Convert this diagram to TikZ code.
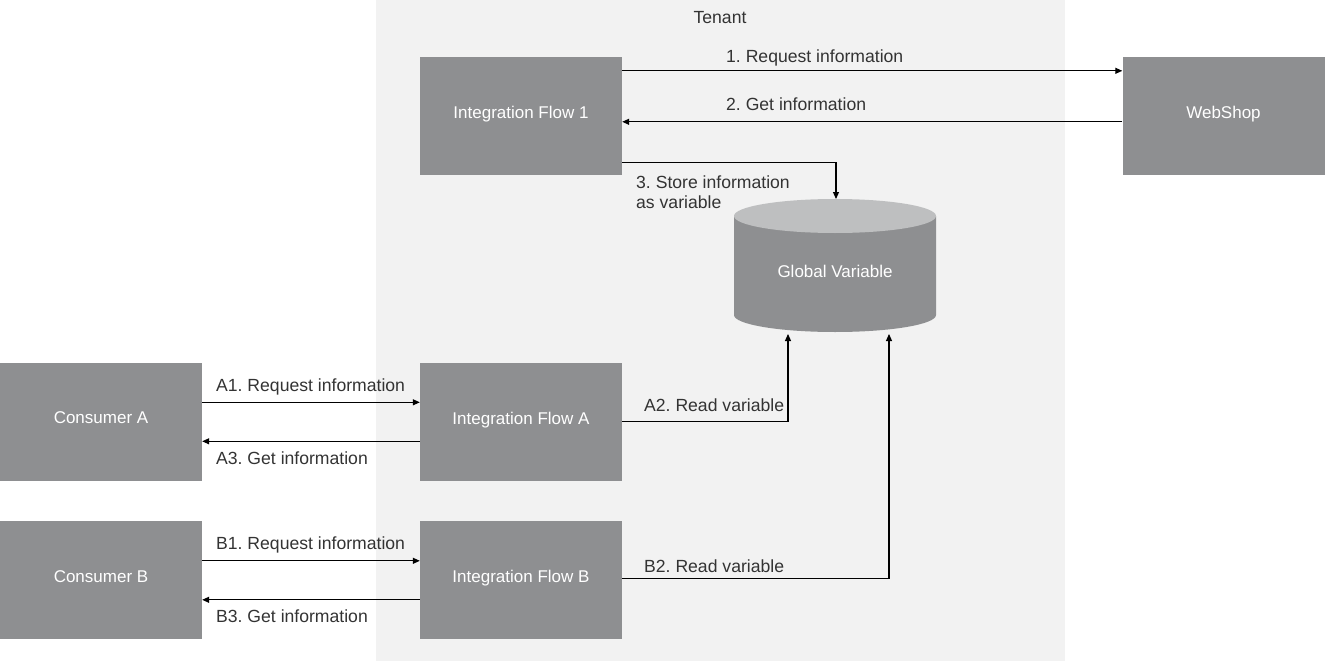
\documentclass[tikz,border=0pt]{standalone}
\usepackage{fontspec}
\setmainfont{Liberation Sans}
\usetikzlibrary{arrows.meta,calc}
\definecolor{boxgray}{HTML}{8E8F91}
\definecolor{tenantbg}{HTML}{F2F2F2}
\definecolor{captop}{HTML}{BEBFC0}
\definecolor{labelc}{HTML}{333333}
\frenchspacing
\begin{document}
\begin{tikzpicture}[x=1pt,y=-1pt,
  box/.style={fill=boxgray,minimum width=202pt,minimum height=118pt,inner sep=0pt,text=white,font=\fontsize{17}{20}\selectfont,text depth=7pt},
  lbl/.style={text=labelc,font=\fontsize{17.6}{20}\selectfont,inner sep=0pt,anchor=west},
  arr/.style={draw=black,line width=1.1pt,-{Triangle[length=7pt,width=6pt]}}]
\useasboundingbox (0,0) rectangle (1325,661);
\fill[tenantbg] (376,0) rectangle (1065,661);
\node[lbl,anchor=center] (tenant) at (720,18) {Tenant};
% boxes
\node[box] (if1) at (521,116) {Integration Flow 1};
\node[box] (ws) at (1223.5,116) {WebShop};
\node[box] (ca) at (101,421.5) {Consumer A};
\node[box] (ifa) at (521,421.5) {Integration Flow A};
\node[box] (cb) at (101,580) {Consumer B};
\node[box] (ifb) at (521,580) {Integration Flow B};
% cylinder
\fill[boxgray] (734,216) -- (734,315) arc[start angle=180,end angle=360,x radius=101pt,y radius=17pt] -- (936,216) -- cycle;
\fill[captop] (835,216) ellipse [x radius=101pt, y radius=17pt];
\node[text=white,font=\fontsize{17}{20}\selectfont,inner sep=0pt] (gv) at (835,271) {Global Variable};
\coordinate (gvtop) at (836,199);
\coordinate (gvbota) at (788,334);
\coordinate (gvbotb) at (889,334);
% connectors
\draw[arr] ($(if1.north east)+(0,14)$) -- ($(ws.north west)+(0,14)$);
\draw[arr] ($(ws.north west)+(0,65)$) -- ($(if1.north east)+(0,65)$);
\draw[arr] ($(if1.north east)+(0,106)$) -| (gvtop);
\draw[arr] ($(ca.north east)+(0,40)$) -- ($(ifa.north west)+(0,40)$);
\draw[arr] ($(ifa.north west)+(0,79)$) -- ($(ca.north east)+(0,79)$);
\draw[arr] ($(ifa.north east)+(0,59)$) -| (gvbota);
\draw[arr] ($(cb.north east)+(0,40)$) -- ($(ifb.north west)+(0,40)$);
\draw[arr] ($(ifb.north west)+(0,79)$) -- ($(cb.north east)+(0,79)$);
\draw[arr] ($(ifb.north east)+(0,58)$) -| (gvbotb);
% labels
\node[lbl] (l1) at (726,58) {1. Request information};
\node[lbl] (l2) at (726,104) {2. Get information};
\node[lbl,align=left] (l3) at (636,192) {3. Store information\\as variable};
\node[lbl] (la1) at (216,387) {A1. Request information};
\node[lbl] (la3) at (216,458) {A3. Get information};
\node[lbl] (la2) at (644,405) {A2. Read variable};
\node[lbl] (lb1) at (216,545) {B1. Request information};
\node[lbl] (lb3) at (216,616) {B3. Get information};
\node[lbl] (lb2) at (644,566) {B2. Read variable};
\end{tikzpicture}
\end{document}
